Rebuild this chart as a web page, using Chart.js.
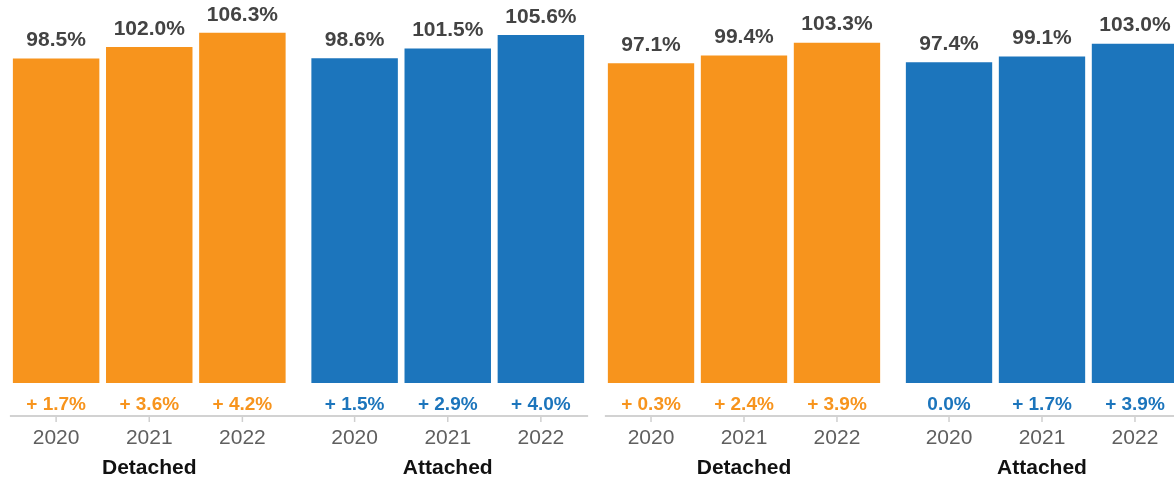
<!DOCTYPE html>
<html>
<head>
<meta charset="utf-8">
<script src="https://cdn.jsdelivr.net/npm/chart.js@4"></script>
<style>
  html, body { margin: 0; padding: 0; background: #ffffff; overflow: hidden; }
  body { width: 1174px; height: 482px; position: relative; }
  .panel { position: absolute; top: 0; height: 482px; }
  #panelA { left: 0px; width: 597px; }
  #panelB { left: 595px; width: 596px; }
</style>
</head>
<body>
<div class="panel" id="panelA"><canvas id="chartA"></canvas></div>
<div class="panel" id="panelB"><canvas id="chartB"></canvas></div>
<script>
// Housing types and years shown in each panel
const groups = ["Detached", "Attached"];
const years = ["2020", "2021", "2022"];

// Left panel: index values (%) and year-over-year change (%)
const leftDetached = [98.5, 102.0, 106.3];
const leftAttached = [98.6, 101.5, 105.6];
const leftDetachedChange = [1.7, 3.6, 4.2];
const leftAttachedChange = [1.5, 2.9, 4.0];

// Right panel: index values (%) and year-over-year change (%)
const rightDetached = [97.1, 99.4, 103.3];
const rightAttached = [97.4, 99.1, 103.0];
const rightDetachedChange = [0.3, 2.4, 3.9];
const rightAttachedChange = [0.0, 1.7, 3.9];

const ORANGE = "#f7941d";
const BLUE = "#1c75bc";
const FONT = "'Liberation Sans', Arial, Helvetica, sans-serif";

function fmtChange(v) {
  return v > 0 ? "+ " + v.toFixed(1) + "%" : v.toFixed(1) + "%";
}

// Value labels above bars, change labels below, year ticks and axis line
const annotations = {
  id: "annotations",
  afterDatasetsDraw(chart) {
    const ctx = chart.ctx;
    const area = chart.chartArea;
    const yScale = chart.scales.y;
    const changes = chart.options.plugins.annotations.changes;
    const colors = [ORANGE, BLUE];
    let firstLeft = Infinity, lastRight = -Infinity;

    ctx.save();
    chart.data.datasets.forEach((ds, di) => {
      const meta = chart.getDatasetMeta(di);
      meta.data.forEach((bar, gi) => {
        const half = bar.width / 2;
        firstLeft = Math.min(firstLeft, bar.x - half);
        lastRight = Math.max(lastRight, bar.x + half);

        // value on top
        ctx.font = "bold 21px " + FONT;
        ctx.fillStyle = "#434343";
        ctx.textAlign = "center";
        ctx.textBaseline = "middle";
        ctx.fillText(ds.data[gi].toFixed(1) + "%", bar.x, bar.y - 17);

        // change below the bar
        ctx.font = "bold 19px " + FONT;
        ctx.fillStyle = colors[gi];
        ctx.fillText(fmtChange(changes[gi][di]), bar.x, yScale.getPixelForValue(-6.6));

        // tick mark
        ctx.strokeStyle = "#cfcfcf";
        ctx.lineWidth = 1.5;
        ctx.beginPath();
        ctx.moveTo(bar.x, area.bottom);
        ctx.lineTo(bar.x, area.bottom + 6);
        ctx.stroke();

        // year label
        ctx.font = "21px " + FONT;
        ctx.fillStyle = "#5f5f5f";
        ctx.fillText(ds.label, bar.x, area.bottom + 22);
      });
    });

    // baseline under the bars
    ctx.strokeStyle = "#d2d2d2";
    ctx.lineWidth = 2;
    ctx.beginPath();
    ctx.moveTo(firstLeft - 2, area.bottom);
    ctx.lineTo(lastRight + 3, area.bottom);
    ctx.stroke();
    ctx.restore();
  }
};

function makeChart(id, detached, attached, detChange, attChange) {
  const datasets = years.map((yr, i) => ({
    label: yr,
    data: [detached[i], attached[i]],
    backgroundColor: [ORANGE, BLUE],
    borderColor: "rgba(255,255,255,0.35)",
    borderWidth: 1,
    categoryPercentage: 0.936,
    barPercentage: 0.95
  }));

  return new Chart(document.getElementById(id), {
    type: "bar",
    data: { labels: groups, datasets },
    plugins: [annotations],
    options: {
      responsive: true,
      maintainAspectRatio: false,
      animation: false,
      devicePixelRatio: 1,
      layout: { padding: { top: 3, bottom: 2, left: 0, right: 0 } },
      plugins: {
        legend: { display: false },
        tooltip: { enabled: false },
        annotations: { changes: [detChange, attChange] }
      },
      scales: {
        x: {
          grid: { display: false, drawTicks: false },
          border: { display: false },
          afterFit(scale) { scale.height = 64; },
          ticks: {
            padding: 40,
            color: "#111111",
            font: { family: FONT, size: 21, weight: "bold" }
          }
        },
        y: {
          display: false,
          min: -10,
          max: 115
        }
      }
    }
  });
}

makeChart("chartA", leftDetached, leftAttached, leftDetachedChange, leftAttachedChange);
makeChart("chartB", rightDetached, rightAttached, rightDetachedChange, rightAttachedChange);
</script>
</body>
</html>
